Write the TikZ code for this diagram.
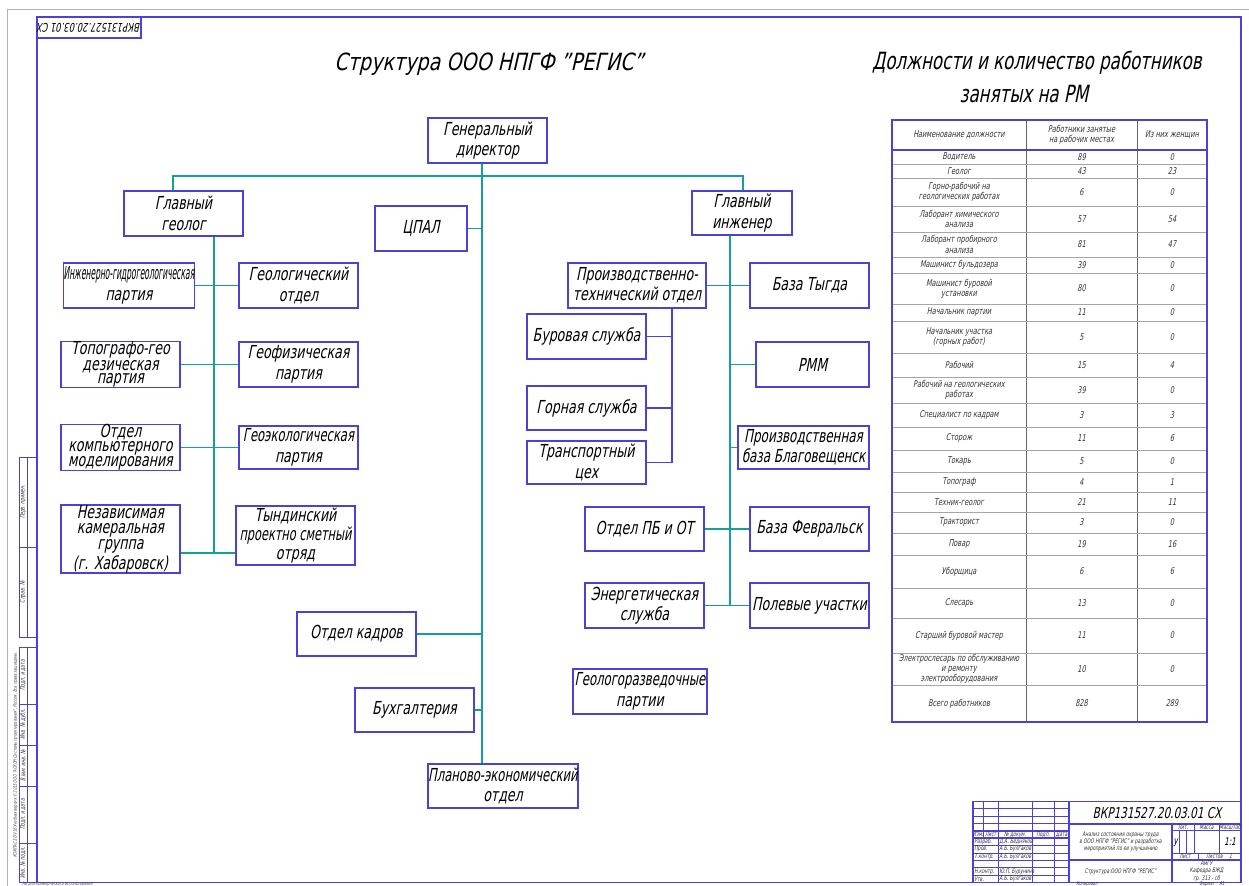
\documentclass[tikz,border=0pt]{standalone}
\usepackage{fontspec}
\setmainfont{DejaVu Sans Condensed}[FakeSlant=0.2,FakeStretch=0.78]
\definecolor{tl}{RGB}{20,160,150}
\definecolor{fb}{RGB}{75,65,215}
\newcommand\boxfont{\fontsize{10.2}{11.6}\selectfont}
\newcommand\cellfont{\fontsize{5.3}{5.8}\selectfont}
\newcommand\tinyfont{\fontsize{3.6}{4.1}\selectfont}
\begin{document}
\begin{tikzpicture}[x=0.02cm,y=-0.02cm,
  box/.style={draw=fb,line width=0.9pt,align=center,inner sep=0pt,font=\boxfont},
  con/.style={draw=tl,line width=1.1pt},
  bcon/.style={draw=fb,line width=0.8pt},
  fr/.style={draw=fb,line width=1.1pt},
  thin/.style={draw=fb,line width=0.5pt},
  cell/.style={align=center,inner sep=0pt,font=\cellfont,text=black!80},
  tb/.style={inner sep=0pt,font=\tinyfont,text=black!80},
  rowl/.style={draw=black!35,line width=0.4pt},
  coll/.style={draw=black!60,line width=0.5pt}]
\useasboundingbox (0,0) rectangle (1249,886);
% page edge and frame
\draw[black!30,line width=0.5pt] (7,886) -- (7,9) -- (1249,9);
\draw[fr] (37,17) rectangle (1241,882.5);
\draw[fr] (37,38) -- (141,38) -- (141,17);
\node[rotate=180,inner sep=0pt,font=\fontsize{6.8}{7}\selectfont] (stamp) at (89,27.5) {ВКР131527.20.03.01 СХ};
% left strip
\draw[thin] (19,457) rectangle (37,637) (19,547) -- (37,547) (27,457) -- (27,637);
\draw[thin] (19,647) rectangle (37,882.5) (27,647) -- (27,882.5);
\foreach \yy in {704,745,786,843} {\draw[thin] (19,\yy) -- (37,\yy);}
\node[tb,rotate=90] (ls1) at (23,502) {Перв. примен.};
\node[tb,rotate=90] (ls2) at (23,592) {Справ. №};
\node[tb,rotate=90] (ls3) at (23,675.5) {Подп. и дата};
\node[tb,rotate=90] (ls4) at (23,724.5) {Инв. № дубл.};
\node[tb,rotate=90] (ls5) at (23,765.5) {Взам. инв. №};
\node[tb,rotate=90] (ls6) at (23,814.5) {Подп. и дата};
\node[tb,rotate=90] (ls7) at (23,863) {Инв. № подл.};
\node[inner sep=0pt,rotate=90,font=\fontsize{2.8}{3}\selectfont,text=black!70] (kompas) at (15.5,755) {КОМПАС-3D V16 Учебная версия © 2015 ООО "АСКОН-Системы проектирования", Россия. Все права защищены.};
\node[inner sep=0pt,anchor=west,font=\fontsize{2.8}{3}\selectfont,text=black!70] (nekom) at (22,884.6) {Не для коммерческого использования};
% titles
\node[inner sep=0pt,font=\fontsize{13.5}{15}\selectfont] (title) at (489,64) {\scalebox{1.15}[1]{Структура ООО НПГФ "РЕГИС"}};
\node[inner sep=0pt,font=\fontsize{13.5}{15}\selectfont] (title2a) at (1037,63) {Должности и количество работников};
\node[inner sep=0pt,font=\fontsize{13.5}{15}\selectfont] (title2b) at (1024,94) {занятых на РМ};
% boxes
\node[box,minimum width=2.38cm,minimum height=0.90cm] (dir) at (487.5,140.5) {Генеральный\\директор};
\node[box,minimum width=2.38cm,minimum height=0.90cm] (gg) at (183.5,213.5) {Главный\\геолог};
\node[box,minimum width=1.84cm,minimum height=0.90cm] (cpal) at (421,228.5) {ЦПАЛ};
\node[box,minimum width=2.00cm,minimum height=0.88cm] (gi) at (742,213) {Главный\\инженер};
\node[box,minimum width=2.60cm,minimum height=0.90cm] (igp) at (129,285.5) {\scalebox{0.6}[1]{Инженерно-гидрогеологическая}\\партия};
\node[box,minimum width=2.38cm,minimum height=0.90cm] (geootd) at (298.5,285.5) {Геологический\\отдел};
\node[box,minimum width=2.38cm,minimum height=0.90cm,font=\fontsize{10.2}{7.8}\selectfont] (topo) at (120.5,364.5) {Топографо-гео\\дезическая\\партия};
\node[box,minimum width=2.38cm,minimum height=0.90cm] (geof) at (298.5,364.5) {Геофизическая\\партия};
\node[box,minimum width=2.38cm,minimum height=0.86cm,font=\fontsize{10.2}{7.8}\selectfont] (komp) at (120.5,447.5) {Отдел\\компьютерного\\моделирования};
\node[box,minimum width=2.38cm,minimum height=0.86cm] (geoek) at (298.5,447.5) {\scalebox{0.92}[1]{Геоэкологическая}\\партия};
\node[box,minimum width=2.38cm,minimum height=1.32cm,font=\fontsize{10.2}{9}\selectfont] (nez) at (120.5,539) {Независимая\\камеральная\\группа\\(г. Хабаровск)};
\node[box,minimum width=2.38cm,minimum height=1.18cm,font=\fontsize{10.2}{10.8}\selectfont] (tynd) at (295.5,535.5) {Тындинский\\\scalebox{0.9}[1]{проектно сметный}\\отряд};
\node[box,minimum width=2.76cm,minimum height=0.90cm] (pto) at (637,285.5) {Производственно-\\технический отдел};
\node[box,minimum width=2.38cm,minimum height=0.90cm] (tygda) at (809.5,285.5) {База Тыгда};
\node[box,minimum width=2.38cm,minimum height=0.90cm] (bur) at (586.5,336.5) {Буровая служба};
\node[box,minimum width=2.26cm,minimum height=0.90cm] (rmm) at (812.5,364.5) {РММ};
\node[box,minimum width=2.38cm,minimum height=0.88cm] (gorn) at (586.5,408) {Горная служба};
\node[box,minimum width=2.38cm,minimum height=0.86cm] (trans) at (586.5,462.5) {Транспортный\\цех};
\node[box,minimum width=2.62cm,minimum height=0.86cm] (blag) at (803.5,447.5) {\scalebox{0.95}[1]{Производственная}\\\scalebox{0.95}[1]{база Благовещенск}};
\node[box,minimum width=2.38cm,minimum height=0.88cm] (pbot) at (644.5,529) {Отдел ПБ и ОТ};
\node[box,minimum width=2.38cm,minimum height=0.88cm] (fevr) at (809.5,529) {База Февральск};
\node[box,minimum width=2.38cm,minimum height=0.90cm] (energ) at (644.5,605.5) {Энергетическая\\служба};
\node[box,minimum width=2.38cm,minimum height=0.90cm] (polev) at (809.5,605.5) {Полевые участки};
\node[box,minimum width=2.38cm,minimum height=0.88cm] (kadr) at (356.5,634) {Отдел кадров};
\node[box,minimum width=2.38cm,minimum height=0.88cm] (buh) at (414.5,710) {Бухгалтерия};
\node[box,minimum width=3.00cm,minimum height=0.88cm] (plan) at (503,786) {\scalebox{0.92}[1]{Планово-экономический}\\отдел};
\node[box,minimum width=2.68cm,minimum height=0.90cm] (gr) at (640,691.5) {\scalebox{0.93}[1]{Геологоразведочные}\\партии};
% connectors
\coordinate (tX) at (482,176);
\coordinate (hL) at (173,176);
\coordinate (hR) at (743,176);
\coordinate (lX) at (214,553);
\coordinate (rX) at (730,605.5);
\coordinate (bX) at (672,462.5);
\draw[con] (dir.south -| tX) -- (plan.north -| tX);
\draw[con] (gg.north -| hL) -- (hL) -- (hR) -- (gi.north -| hR);
\draw[con] (cpal.east) -- (cpal.east -| tX);
\draw[con] (kadr.east) -- (kadr.east -| tX);
\draw[con] (buh.east) -- (buh.east -| tX);
\draw[con] (gg.south -| lX) -- (lX);
\draw[con] (igp.east) -- (geootd.west);
\draw[con] (topo.east) -- (geof.west);
\draw[con] (komp.east) -- (geoek.west);
\draw[con] (nez.east |- lX) -- (tynd.west |- lX);
\draw[con] (gi.south -| rX) -- (rX);
\draw[con] (pto.east) -- (tygda.west);
\draw[con] (rmm.west) -- (rmm.west -| rX);
\draw[con] (blag.west) -- (blag.west -| rX);
\draw[con] (pbot.east) -- (fevr.west);
\draw[con] (energ.east) -- (polev.west);
\draw[bcon] (pto.south -| bX) -- (bX);
\draw[bcon] (bur.east) -- (bur.east -| bX);
\draw[bcon] (gorn.east) -- (gorn.east -| bX);
\draw[bcon] (trans.east) -- (bX);
% table
\draw[coll] (1026,120) -- (1026,722) (1137,120) -- (1137,722);
\node[cell] (th1) at (959,135) {Наименование должности};
\node[cell] (th2) at (1081.5,135) {Работники занятые\\на рабочих местах};
\node[cell] (th3) at (1172,135) {Из них женщин};
\foreach \nm/\na/\nb/\ya/\yb [count=\i] in {
 {Водитель}/89/0/150/164,
 {Геолог}/43/23/164/178,
 {Горно-рабочий на\\геологических работах}/6/0/178/206,
 {Лаборант химического\\анализа}/57/54/206/232,
 {Лаборант пробирного\\анализа}/81/47/232/257,
 {Машинист бульдозера}/39/0/257/273,
 {Машинист буровой\\установки}/80/0/273/304,
 {Начальник партии}/11/0/304/321,
 {Начальник участка\\(горных работ)}/5/0/321/353,
 {Рабочий}/15/4/353/377,
 {Рабочий на геологических\\работах}/39/0/377/403,
 {Специалист по кадрам}/3/3/403/427,
 {Сторож}/11/6/427/450,
 {Токарь}/5/0/450/472,
 {Топограф}/4/1/472/492,
 {Техник-геолог}/21/11/492/512,
 {Тракторист}/3/0/512/533,
 {Повар}/19/16/533/555,
 {Уборщица}/6/6/555/588,
 {Слесарь}/13/0/588/618,
 {Старший буровой мастер}/11/0/618/653,
 {Электрослесарь по обслуживанию\\и ремонту\\электрооборудования}/10/0/653/685,
 {Всего работников}/828/289/685/722}{
 \node[cell] (tra\i) at (959,{(\ya+\yb)/2}) {\nm};
 \node[cell] (trb\i) at (1081.5,{(\ya+\yb)/2}) {\na};
 \node[cell] (trc\i) at (1172,{(\ya+\yb)/2}) {\nb};
 \draw[rowl] (892,\yb) -- (1207,\yb);
}
\draw[fb,line width=0.8pt] (892,150) -- (1207,150);
\draw[fb,line width=0.9pt] (892,120) rectangle (1207,722);
% title block
\draw[fr] (973,801.5) rectangle (1241,882.5);
\foreach \k in {1,...,10} {\draw[thin] (973,{801.5+7.36*\k}) -- (1069,{801.5+7.36*\k});}
\draw[thin] (983.3,801.5) -- (983.3,838.3);
\draw[thin] (998.1,801.5) -- (998.1,882.5) (1032,801.5) -- (1032,882.5) (1054.2,801.5) -- (1054.2,882.5);
\draw[fr] (1069,801.5) -- (1069,882.5);
\draw[fr] (973,830.9) -- (1069,830.9) (973,838.3) -- (1069,838.3);
\draw[fr] (1069,823.6) -- (1241,823.6) (1069,860.4) -- (1241,860.4) (1172,823.6) -- (1172,882.5);
\draw[thin] (1172,830.9) -- (1241,830.9) (1172,853) -- (1241,853);
\draw[thin] (1194,823.6) -- (1194,853) (1219,823.6) -- (1219,853);
\draw[thin] (1179.3,830.9) -- (1179.3,853) (1186.7,830.9) -- (1186.7,853);
\draw[thin] (1198,853) -- (1198,860.4);
\node[inner sep=0pt,font=\fontsize{8.5}{10}\selectfont] (tbdes) at (1157,813) {ВКР131527.20.03.01 СХ};
\node[tb,align=center] (tbname) at (1120.5,842) {Анализ состояния охраны труда\\в ООО НПГФ "РЕГИС" и разработка\\мероприятий по ее улучшению};
\node[tb] (tbdraw) at (1120.5,871.5) {Структура ООО НПГФ "РЕГИС"};
\node[tb,align=center] (tborg) at (1206.5,871.3) {АмГУ\\Кафедра БЖД\\гр. 313 - сб};
\node[tb] (tblit) at (1183,827.2) {Лит.};
\node[tb] (tbmas) at (1206.5,827.2) {Масса};
\node[tb] (tbmsh) at (1230,827.2) {Масштаб};
\node[inner sep=0pt,font=\fontsize{6}{7}\selectfont] (tbu) at (1175.6,842.5) {у};
\node[inner sep=0pt,font=\fontsize{6}{7}\selectfont] (tbsc) at (1230,842) {1:1};
\node[tb] (tblist) at (1185,856.7) {Лист};
\node[tb] (tblists) at (1219,856.7) {Листов\quad 1};
\node[tb] (h1) at (978.2,834.6) {Изм.};
\node[tb] (h2) at (990.7,834.6) {Лист};
\node[tb] (h3) at (1015,834.6) {№ докум.};
\node[tb] (h4) at (1043.1,834.6) {Подп.};
\node[tb] (h5) at (1061.6,834.6) {Дата};
\foreach \lab/\who/\k in {Разраб./Д.А. Бедняков/5,Пров./А.Б. Булгаков/6,Т.контр./А.Б. Булгаков/7,Н.контр./Ю.П. Бурунина/9,Утв./А.Б. Булгаков/10}{
 \node[tb,anchor=west] (ra\k) at (974,{801.5+7.36*\k+3.68}) {\lab};
 \node[tb,anchor=west] (rb\k) at (999,{801.5+7.36*\k+3.68}) {\who};
}
\node[tb,font=\fontsize{3}{3.4}\selectfont] (kop) at (1087,884.6) {Копировал};
\node[tb,font=\fontsize{3}{3.4}\selectfont] (fmt) at (1212,884.6) {Формат\quad A1};
\end{tikzpicture}
\end{document}
